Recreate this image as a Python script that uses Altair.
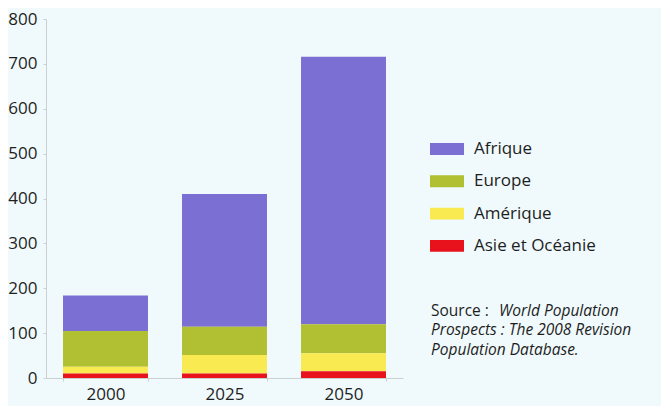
import altair as alt
import pandas as pd

years = ["2000", "2025", "2050"]
regions = ["Afrique", "Europe", "Amérique", "Asie et Océanie"]
colors = ["#7c6fd3", "#b1bf33", "#f8ea50", "#e8121c"]
afrique = [79, 296, 596]
europe = [80, 63, 65]
amerique = [15, 41, 40]
asie = [10, 10, 15]
y_ticks = [0, 100, 200, 300, 400, 500, 600, 700, 800]

source_lines = [
    ["Source : ", "World Population"],
    ["", "Prospects : The 2008 Revision"],
    ["", "Population Database."],
]

series = [afrique, europe, amerique, asie]
rows = []
for i, (region, vals) in enumerate(zip(regions, series)):
    for yr, v in zip(years, vals):
        rows.append({"annee": yr, "region": region, "valeur": v,
                     "rang": len(regions) - 1 - i})
df = pd.DataFrame(rows)

FONT = "Open Sans"
TXT = "#1e1e1e"
AX = "#c9d0d2"

bars = alt.Chart(df).mark_bar().encode(
    x=alt.X("annee:N", sort=years,
            scale=alt.Scale(paddingInner=0.286, paddingOuter=0.143),
            axis=alt.Axis(title=None, labelAngle=0, labelFontSize=17, labelFont=FONT,
                          labelColor=TXT, labelPadding=5, tickSize=3, tickBand="extent",
                          domainColor=AX, tickColor=AX)),
    y=alt.Y("valeur:Q", stack="zero",
            scale=alt.Scale(domain=[0, 800], nice=False),
            axis=alt.Axis(title=None, values=y_ticks, grid=False, labelFontSize=17,
                          labelFont=FONT, labelColor=TXT, labelPadding=6, tickSize=3,
                          domainColor=AX, tickColor=AX)),
    color=alt.Color("region:N", scale=alt.Scale(domain=regions, range=colors),
                    legend=alt.Legend(title=None, orient="none", legendX=384, legendY=113,
                                      symbolType="M-1,-0.35L1,-0.35L1,0.35L-1,0.35Z",
                                      symbolSize=1156, symbolStrokeWidth=0,
                                      labelFont=FONT, labelFontSize=17, labelColor=TXT,
                                      labelOffset=10, rowPadding=7.3)),
    order=alt.Order("rang:Q", sort="ascending"),
)

texts = []
base_y = [296.5, 316, 335.5]
for (plain, ital), yy in zip(source_lines, base_y):
    if plain:
        texts.append(alt.Chart(pd.DataFrame({"t": [plain]})).mark_text(
            align="left", baseline="alphabetic", font=FONT, fontSize=15.5, color=TXT
        ).encode(text="t:N", x=alt.value(385), y=alt.value(yy)))
        xi = 453
    else:
        xi = 385
    texts.append(alt.Chart(pd.DataFrame({"t": [ital]})).mark_text(
        align="left", baseline="alphabetic", font=FONT, fontSize=15.5, fontStyle="italic",
        color=TXT
    ).encode(text="t:N", x=alt.value(xi), y=alt.value(yy)))

chart = alt.layer(bars, *texts).properties(
    width=357, height=359,
    padding={"left": 38, "top": 11, "right": 258, "bottom": 28},
    autosize="none",
).configure(background="#f0fafc").configure_view(stroke=None)

chart.save("out.html", embed_options={"renderer": "svg", "actions": False})
